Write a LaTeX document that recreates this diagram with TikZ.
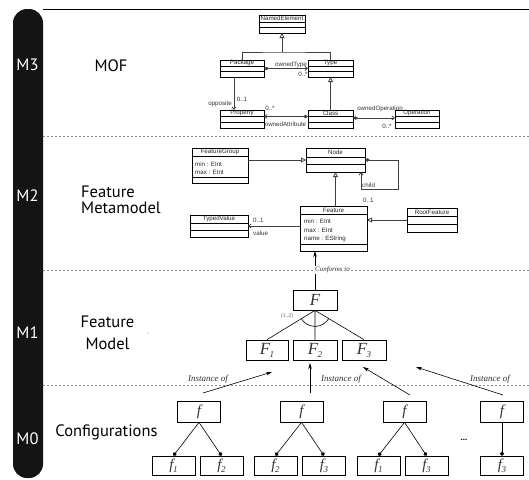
\documentclass[tikz,border=0pt]{standalone}
\usepackage{fontspec}
\setmainfont{Liberation Serif}
\newfontfamily\labfont{PT Sans}
\newfontfamily\umlfont{Liberation Sans}
\usetikzlibrary{arrows.meta}

% UML class box: name, x1, y1, x2, y2, first separator, second separator, header
\newcommand\umlclass[8]{%
  \node[umlbox, minimum width={#4-#2}, minimum height={#5-#3}] (#1) at ({(#2+#4)/2},{(#3+#5)/2}) {};
  \draw[umlsep] (#2,#6) -- (#4,#6) (#2,#7) -- (#4,#7);
  \node[umltext] (#1h) at ({(#2+#4)/2},{(#3+#6)/2}) {#8};
}
% lowered index after an italic letter
\newcommand\sbs[1]{\kern-0.5pt\raisebox{-3pt}{\fontsize{9}{9}\selectfont #1}}

\tikzset{
  umlbox/.style={draw=black, line width=0.75pt, inner sep=0pt, outer sep=0pt},
  umlsep/.style={line width=0.7pt},
  umltext/.style={font=\umlfont\fontsize{6.2}{6.2}\selectfont, text=black!85, inner sep=0pt},
  umllab/.style={font=\umlfont\fontsize{6.2}{6.2}\selectfont, text=black!80, inner sep=0pt},
  gen/.style={draw=black!75, line width=0.8pt},
  inh/.style={gen, -{Triangle[open, length=5pt, width=5pt]}},
  comp/.style={gen, {Diamond[length=5pt, width=3.5pt]}-{Straight Barb[length=2.5pt, width=4pt]}},
  assoc/.style={gen, -{Straight Barb[length=2.5pt, width=4pt]}},
  layer/.style={font=\labfont\fontsize{16.5}{16.5}\selectfont, text=white, anchor=base, inner sep=0pt},
  title/.style={font=\labfont\fontsize{16.5}{16.5}\selectfont, anchor=base, inner sep=0pt},
  sepline/.style={draw=black!45, line width=0.7pt, dash pattern=on 2pt off 2pt},
  fbox/.style={draw, line width=0.7pt, inner sep=0pt, minimum height=20pt, text=black!80,
    font=\itshape\fontsize{17}{17}\selectfont},
  cbox/.style={draw, line width=0.7pt, inner sep=0pt, minimum width=43pt, text=black!80,
    font=\itshape\fontsize{15}{15}\selectfont},
  kid/.style={line width=0.6pt, -{Circle[length=4pt]}},
  inst/.style={font=\itshape\fontsize{9}{9}\selectfont, text=black!80, inner sep=0pt},
  iarrow/.style={line width=0.6pt, -{Stealth[length=6pt, width=3.5pt]}},
}

\begin{document}
\begin{tikzpicture}[x=1pt, y=-1pt]
\useasboundingbox (0,0) rectangle (529,479);

% level bar and frame
\fill[black!92, rounded corners=14pt] (13,9) rectangle (43,478);
\draw[line width=0.8pt] (43,9) -- (529,9);
\foreach \yy in {136,270,385} \draw[sepline] (43,\yy) -- (529,\yy);

\node[layer] (m3) at (27.5,70) {M3};
\node[layer] (m2) at (27.5,201) {M2};
\node[layer] (m1) at (27.5,338) {M1};
\node[layer] (m0) at (27.5,444) {M0};

\node[title] (t3) at (111,71) {MOF};
\node[title, anchor=base west] (t2a) at (81,197) {Feature};
\node[title, anchor=base west] (t2b) at (81,213) {Metamodel};
\node[title] (t1a) at (107.5,327) {Feature};
\node[title] (t1b) at (107.5,349) {Model};
\node[title] (t0) at (106.5,436.5) {Configurations};
\fill[black!60] (148,333) circle (0.5);

% ---- M3: MOF ----
\umlclass{ne}{259}{15}{305}{33}{22}{27.3}{NamedElement}
\umlclass{pkg}{220}{60}{264}{77}{66.7}{71.7}{Package}
\umlclass{typ}{308}{60}{353}{77}{66.7}{71.7}{Type}
\umlclass{prop}{220}{110}{264}{128}{116.5}{122.3}{Property}
\umlclass{cls}{308}{110}{353}{128}{116.5}{122.3}{Class}
\umlclass{op}{395}{110}{439}{128}{116.5}{122.3}{Operation}

\coordinate (jn) at (282,52);
\draw[gen] (pkg.north) |- (jn) -| (typ.north);
\draw[inh] (jn) -- (ne.south);
\draw[comp] (pkg.east) -- (typ.west);
\draw[assoc] ([xshift=-8pt]pkg.south) -- ([xshift=-8pt]prop.north);
\draw[inh] (cls.north) -- (typ.south);
\draw[comp] ([yshift=2.5pt]cls.west) -- ([yshift=2.5pt]prop.east);
\draw[comp] ([yshift=1pt]cls.east) -- ([yshift=1pt]op.west);

\node[umllab] (l1) at (291,64.5) {ownedType};
\node[umllab] (l2) at (303,74.5) {0..*};
\node[umllab] (l3) at (220,104) {opposite};
\node[umllab] (l4) at (242,99) {0..1};
\node[umllab] (l5) at (270,108.5) {0..*};
\node[umllab] (l6) at (285.5,124.5) {ownedAttribute};
\node[umllab] (l7) at (380,108.5) {ownedOperation};
\node[umllab] (l8) at (387,126) {0..*};

% ---- M2: feature metamodel ----
\umlclass{fg}{192}{148}{248}{183}{156.7}{177.3}{FeatureGroup}
\umlclass{nd}{306}{148}{365}{172}{157}{164.5}{Node}
\umlclass{feat}{300}{206}{367}{251}{214}{244.5}{Feature}
\umlclass{tv}{190}{215}{248}{237}{223}{230.5}{TypedValue}
\umlclass{rf}{407}{208}{457}{232}{216.7}{224}{RootFeature}

\node[umltext, anchor=west] (fga) at (195,164) {min : EInt};
\node[umltext, anchor=west] (fgb) at (195,172.7) {max : EInt};
\node[umltext, anchor=west] (fta) at (304,221) {min : EInt};
\node[umltext, anchor=west] (ftb) at (304,230) {max : EInt};
\node[umltext, anchor=west] (ftc) at (304,239.3) {name : EString};

\draw[inh] (fg.east |- nd.west) -- (nd.west);
\coordinate (cr) at (398,189);
\coordinate (cl) at (361,189);
\draw[comp] (nd.east) -| (cr) -- (cl) -- (cl |- nd.south);
\draw[inh] (feat.north -| nd.south) -- (nd.south);
\draw[assoc] (feat.west |- tv.east) -- (tv.east);
\draw[inh] (rf.west) -- (rf.west -| feat.east);

\node[umllab, anchor=west] (l9) at (362,185) {child};
\node[umllab, anchor=west] (l10) at (363,200) {0..1};
\node[umllab, anchor=west] (l11) at (253,220) {0..1};
\node[umllab, anchor=west] (l12) at (253,233) {value};

% ---- M1: feature model ----
\node[fbox, minimum width=44pt] (F) at (315,300) {F};
\node[fbox, minimum width=42pt] (F1) at (267,350) {F\sbs{1}};
\node[fbox, minimum width=44pt] (F2) at (315,350) {F\sbs{2}};
\node[fbox, minimum width=44pt] (F3) at (364,350) {F\sbs{3}};
\draw[line width=0.6pt] (F.south) -- (F1.north) (F.south) -- (F2.north) (F.south) -- (F3.north);
\draw[line width=0.6pt] ([shift={(149:16)}]F.south) arc[start angle=149, end angle=31, radius=16];
\node[font=\fontsize{5.5}{5.5}\selectfont, text=black!70, inner sep=0pt] (card) at (287,316) {(1..2)};

\draw[iarrow] (F.north) -- (F.north |- feat.south);
\node[fill=white, inner sep=1pt, font=\itshape\fontsize{7}{7}\selectfont, text=black!80] (conf) at (332.5,270) {Conforms to};

% ---- M0: configurations ----
\node[cbox, minimum height=21pt] (c1) at (199,411.5) {f};
\node[cbox, minimum height=21pt] (c2) at (301.5,411.5) {f};
\node[cbox, minimum height=21pt] (c3) at (404.5,411.5) {f};
\node[cbox, minimum height=21pt] (c4) at (502,411.5) {f};

\node[cbox, minimum height=19pt] (c1a) at (173.5,465.5) {f\sbs{1}};
\node[cbox, minimum height=19pt] (c1b) at (221.5,465.5) {f\sbs{2}};
\node[cbox, minimum height=19pt] (c2a) at (275.5,465.5) {f\sbs{2}};
\node[cbox, minimum height=19pt] (c2b) at (324,465.5) {f\sbs{3}};
\node[cbox, minimum height=19pt] (c3a) at (378.5,465.5) {f\sbs{1}};
\node[cbox, minimum height=19pt] (c3b) at (426.5,465.5) {f\sbs{3}};
\node[cbox, minimum height=19pt] (c4a) at (502,465.5) {f\sbs{3}};

\draw[kid] (c1.south) -- (c1a.north);
\draw[kid] (c1.south) -- (c1b.north);
\draw[kid] (c2.south) -- (c2a.north);
\draw[kid] (c2.south) -- (c2b.north);
\draw[kid] (c3.south) -- (c3a.north);
\draw[kid] (c3.south) -- (c3b.north);
\draw[kid] (c4.south) -- (c4a.north);

\node[font=\labfont\bfseries\fontsize{9}{9}\selectfont, inner sep=0pt] (dots) at (464,440) {...};

\coordinate (i1s) at (203,393);  \coordinate (i1e) at (272,372);
\coordinate (i2s) at (310,393);  \coordinate (i2e) at (310,363);
\coordinate (i3s) at (410,395);  \coordinate (i3e) at (363,367);
\coordinate (i4s) at (503,395);  \coordinate (i4e) at (416,367);
\draw[iarrow] (i1s) -- (i1e);
\draw[iarrow] (i2s) -- (i2e);
\draw[iarrow] (i3s) -- (i3e);
\draw[iarrow] (i4s) -- (i4e);

\node[inst] (n1) at (208,379) {Instance of};
\node[inst] (n2) at (341,379) {Instance of};
\node[inst] (n3) at (490,379) {Instance of};
\end{tikzpicture}
\end{document}
